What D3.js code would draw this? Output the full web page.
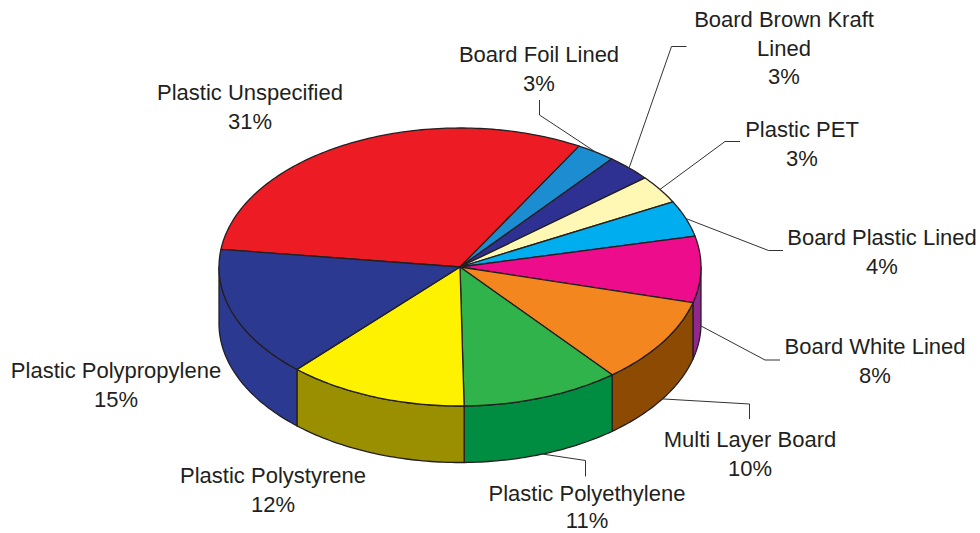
<!DOCTYPE html>
<html>
<head>
<meta charset="utf-8">
<script src="https://cdn.jsdelivr.net/npm/d3@7"></script>
<style>
  body { margin: 0; background: #fff; }
  text { font-family: Arial, "Liberation Sans", sans-serif; font-size: 22px; fill: #231f20; }
</style>
</head>
<body>
<div id="chart-area"></div>
<script>
// data, clockwise from the first slice
var categories = ["Plastic Unspecified", "Board Foil Lined", "Board Brown Kraft Lined", "Plastic PET",
  "Board Plastic Lined", "Board White Lined", "Multi Layer Board", "Plastic Polyethylene",
  "Plastic Polystyrene", "Plastic Polypropylene"];
var values = [31.2, 2.6, 3.1, 3.3, 4.2, 7.7, 10.0, 10.6, 12.1, 15.2];

// colours: top face and side wall
var topColors = ["#ed1c24", "#1b8dd0", "#2e3192", "#fff8b4", "#00aeef", "#ec0c8c", "#f3861f", "#2fb34a", "#fff200", "#2b3990"];
var sideColors = ["#a11117", "#145f8c", "#2e3192", "#b5ad6e", "#0079a8", "#92278f", "#8c4a02", "#008c41", "#998f00", "#2b3990"];

var width = 980, height = 533;
var cx = 460, cy = 267;   // pie centre on screen
var rx = 241, ry = 139, depth = 56.5;
var startDeg = 277.3;

var svg = d3.select("#chart-area").append("svg")
  .attr("width", width)
  .attr("height", height);

// angle (deg, clockwise from the back) + drop below the top face -> screen
function project(deg, h) {
  var t = deg * Math.PI / 180;
  return [cx + rx * Math.sin(t), cy - ry * Math.cos(t) + h];
}

function arcPts(a0, a1, h) {
  var pts = [], n = Math.max(2, Math.ceil(Math.abs(a1 - a0)));
  for (var i = 0; i <= n; i++) pts.push(project(a0 + (a1 - a0) * i / n, h));
  return pts;
}

var pie = d3.pie().sort(null)
  .startAngle(startDeg * Math.PI / 180)
  .endAngle((startDeg + 360) * Math.PI / 180);
var arcs = pie(values).map(function(d, i) {
  return { i: i, a0: d.startAngle * 180 / Math.PI, a1: d.endAngle * 180 / Math.PI, value: d.value };
});

// front half of the wall is the visible one
var visRanges = [[90, 270], [450, 630]];

var line = d3.line();

// side walls
arcs.forEach(function(d) {
  visRanges.forEach(function(v) {
    var a = Math.max(d.a0, v[0]), b = Math.min(d.a1, v[1]);
    if (b <= a) return;
    var pts = arcPts(a, b, 0).concat(arcPts(b, a, depth));
    svg.append("path")
      .attr("d", line(pts) + "Z")
      .attr("fill", sideColors[d.i])
      .attr("stroke", "#231f20")
      .attr("stroke-width", 1.3)
      .attr("stroke-linejoin", "round");
  });
});

// top faces
arcs.forEach(function(d) {
  var pts = [[cx, cy]].concat(arcPts(d.a0, d.a1, 0));
  svg.append("path")
    .attr("d", line(pts) + "Z")
    .attr("fill", topColors[d.i])
    .attr("stroke", "#231f20")
    .attr("stroke-width", 1.3)
    .attr("stroke-linejoin", "round");
});

// labels: text centre x, first baseline, line gap, leader elbow + end (null = no leader)
var labelLayout = [
  { x: 250, y: 100, gap: 28.7, lead: null },
  { x: 539, y: 62, gap: 28.7, lead: [[539.5, 115], [539.5, 100]] },
  { x: 784, y: 27, gap: 28.7, lead: [[671.5, 46.5], [686.5, 46.5]] },
  { x: 802, y: 137, gap: 28.7, lead: [[725, 141.5], [740, 141.5]] },
  { x: 882, y: 245, gap: 28.7, lead: [[768.5, 250.5], [783, 250.5]] },
  { x: 875, y: 354, gap: 28.7, lead: [[765, 360], [780, 360]] },
  { x: 750, y: 447, gap: 28.7, lead: [[749.5, 404], [749.5, 419]] },
  { x: 587, y: 501, gap: 27, lead: [[585.5, 460.5], [585.5, 476.5]] },
  { x: 273, y: 483, gap: 28.7, lead: null },
  { x: 116, y: 378, gap: 28.7, lead: null }
];

var total = d3.sum(values);
arcs.forEach(function(d) {
  var L = labelLayout[d.i];
  var lines = categories[d.i] === "Board Brown Kraft Lined" ? ["Board Brown Kraft", "Lined"] : [categories[d.i]];
  lines.push(Math.round(d.value / total * 100) + "%");
  var t = svg.append("text").attr("text-anchor", "middle");
  lines.forEach(function(s, k) {
    t.append("tspan").attr("x", L.x).attr("y", L.y + k * L.gap).text(s);
  });

  if (L.lead) {
    var mid = (d.a0 + d.a1) / 2;
    var m = ((mid % 360) + 360) % 360;
    // back slices: leader starts on the top rim, front slices on the bottom rim
    var start = project(mid, (m > 90 && m < 270) ? depth : 0);
    svg.append("path")
      .attr("d", line([start].concat(L.lead)))
      .attr("fill", "none")
      .attr("stroke", "#333")
      .attr("stroke-width", 1);
  }
});
</script>
</body>
</html>
